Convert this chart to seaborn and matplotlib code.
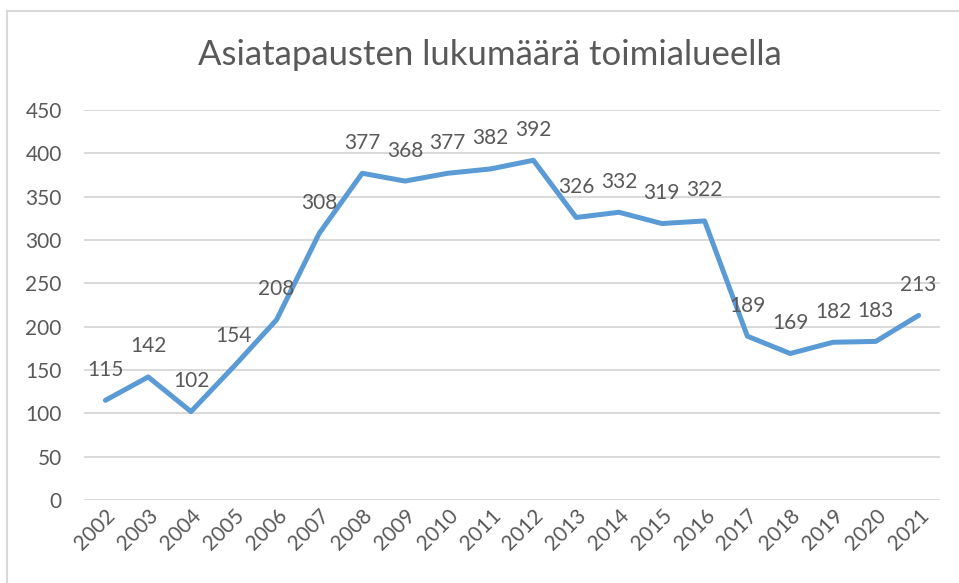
import pandas as pd
import matplotlib
matplotlib.use("Agg")
import matplotlib.pyplot as plt
import matplotlib.patches as mpatches
import seaborn as sns

# data
years = [str(y) for y in range(2002, 2022)]
counts = [115, 142, 102, 154, 208, 308, 377, 368, 377, 382,
          392, 326, 332, 319, 322, 189, 169, 182, 183, 213]
yticks = [0, 50, 100, 150, 200, 250, 300, 350, 400, 450]

title = "Asiatapausten lukumäärä toimialueella"

sns.set_theme(style="white")
plt.rcParams['font.family'] = ['Lato', 'DejaVu Sans']

text_col = "#595959"
grid_col = "#D9D9D9"
line_col = "#5B9BD5"

W, H = 959, 583
fig = plt.figure(figsize=(W / 100, H / 100), dpi=100)
ax = fig.add_axes([84 / W, 1 - 500 / H, (940 - 84) / W, (500 - 110) / H])

# chart area border (cut by the screenshot on right and bottom)
fig.patches.append(mpatches.Rectangle((7 / W, -0.05), 1.1, 1 - 11 / H + 0.05,
                                      transform=fig.transFigure, fill=False,
                                      edgecolor=grid_col, linewidth=1.5))

df = pd.DataFrame({"year": years, "count": counts})
sns.lineplot(data=df, x="year", y="count", ax=ax, color=line_col,
             linewidth=3.6, sort=False)

for i, v in enumerate(counts):
    ax.annotate(str(v), (i, v), xytext=(0, 22), textcoords="offset points",
                ha="center", va="center", fontsize=15, color=text_col)

ax.set_xlim(-0.5, len(years) - 0.5)
ax.set_ylim(0, 450)
ax.set_yticks(yticks)
ax.set_yticklabels([str(t) for t in yticks])
ax.yaxis.grid(True, color=grid_col, linewidth=1.4)
ax.xaxis.grid(False)
for s in ax.spines.values():
    s.set_visible(False)
ax.tick_params(axis="y", length=0, pad=16, labelsize=15, labelcolor=text_col)
ax.tick_params(axis="x", length=0, pad=4, labelsize=15, labelcolor=text_col)
plt.setp(ax.get_xticklabels(), rotation=45, ha="right", va="top",
         rotation_mode="anchor")
ax.set_xlabel("")
ax.set_ylabel("")
ax.set_axisbelow(True)

fig.text(490 / W, 1 - 55 / H, title, ha="center", va="center",
         fontsize=25, color=text_col)

fig.savefig("out.png", dpi=100)
